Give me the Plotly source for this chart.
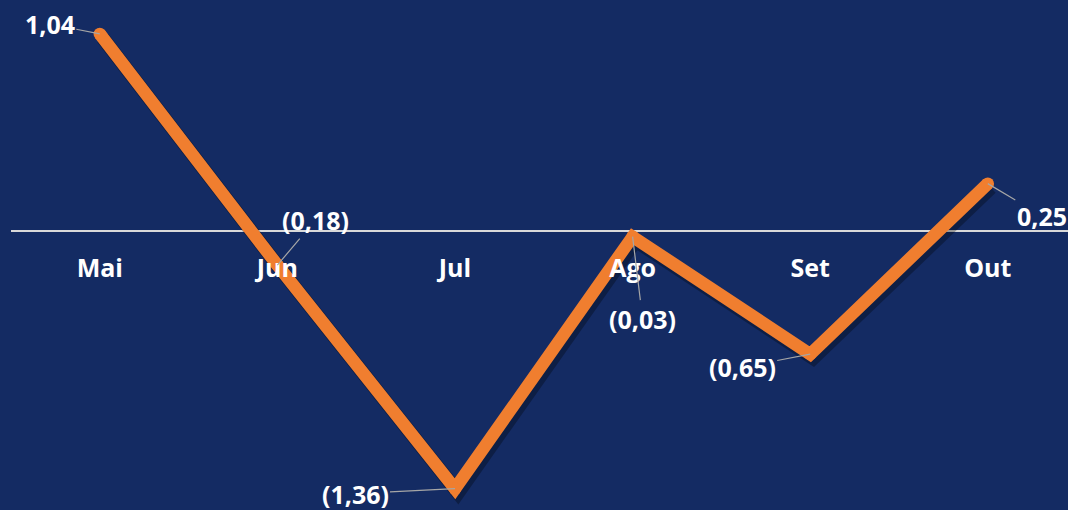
import plotly.graph_objects as go

months = ["Mai", "Jun", "Jul", "Ago", "Set", "Out"]
values = [1.04, -0.18, -1.36, -0.03, -0.65, 0.25]
# label offsets (px) of each data label relative to its point
label_dx = [-50, 38, -100, 10, -68, 54]
label_dy = [-10, -45, 5, 82, 13, 32]

def fmt(v):
    s = f"{abs(v):.2f}".replace(".", ",")
    return f"({s})" if v < 0 else s

labels = [fmt(v) for v in values]

BG = "#142B63"
ORANGE = "#F07E2F"
W, H = 1068, 510
px_x = 177.6
px_y = 189.5
left = -0.5
x_range = [left, left + (W - 11) / px_x]
y_range = [-(H - 231) / px_y, 231 / px_y]

# shadow offsets
sdx, sdy = 3 / px_x, 4 / px_y

fig = go.Figure()
# shadow on base (hidden, shifted) axes
fig.add_trace(go.Scatter(
    x=months, y=values, mode="lines",
    line=dict(color="rgba(0,0,0,0.3)", width=14),
    xaxis="x", yaxis="y", hoverinfo="skip", showlegend=False,
))
# main line on overlay axes
fig.add_trace(go.Scatter(
    x=months, y=values, mode="lines+markers",
    line=dict(color=ORANGE, width=12.5),
    marker=dict(color=ORANGE, size=12.5),
    xaxis="x2", yaxis="y2", showlegend=False,
))

for m, v, t, dx, dy in zip(months, values, labels, label_dx, label_dy):
    fig.add_annotation(
        x=m, y=v, xref="x2", yref="y2",
        text=f"<b>{t}</b>", showarrow=True, arrowhead=0,
        arrowcolor="#A6A6A6", arrowwidth=1.2, ax=dx, ay=dy, standoff=0,
        font=dict(family="Open Sans", size=25, color="white"),
    )

fig.update_layout(
    width=W, height=H,
    margin=dict(l=11, r=0, t=0, b=0),
    paper_bgcolor=BG, plot_bgcolor=BG,
    xaxis=dict(
        type="category", range=[x_range[0] - sdx, x_range[1] - sdx],
        visible=False, categoryarray=months,
    ),
    yaxis=dict(
        range=[y_range[0] + sdy, y_range[1] + sdy], visible=False,
    ),
    xaxis2=dict(
        type="category", overlaying="x", range=x_range, showgrid=False,
        zeroline=False, showline=False, ticks="", anchor="free",
        position=(H - 231) / H,
        tickfont=dict(family="Open Sans", size=25, color="white"),
        ticklabelstandoff=20,
        tickvals=months, ticktext=[f"<b>{m}</b>" for m in months],
    ),
    yaxis2=dict(
        overlaying="y", range=y_range, showgrid=False, showticklabels=False,
        zeroline=True, zerolinecolor="#D9D9D9", zerolinewidth=2,
    ),
)

fig.write_html(
    "out.html",
    config={"displayModeBar": False},
    post_script="document.body.style.margin='0';document.body.style.overflow='hidden';",
)
